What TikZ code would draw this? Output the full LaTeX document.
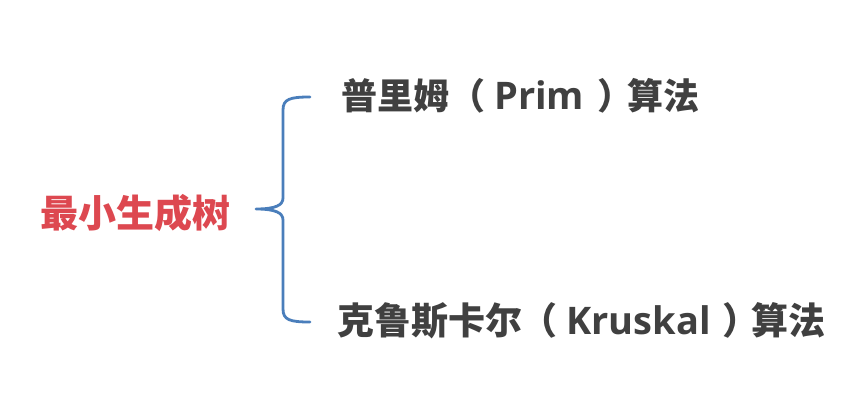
\documentclass[tikz,border=0pt]{standalone}
\usepackage{fontspec}
\newfontfamily\cjk{Noto Sans CJK SC}
\newfontfamily\lat{Open Sans}
\definecolor{titlered}{RGB}{221,72,80}
\definecolor{bracecol}{RGB}{74,126,187}
\definecolor{textgray}{RGB}{64,64,64}
\newcommand{\latpart}[1]{{\lat\bfseries\fontsize{38}{44}\selectfont #1}}
\tikzset{
  rootlabel/.style={anchor=west, inner sep=0pt, text=titlered, font=\cjk\bfseries\fontsize{38}{44}\selectfont},
  leaflabel/.style={anchor=base west, inner sep=0pt, text=textgray, font=\cjk\bfseries\fontsize{36}{42}\selectfont},
  bracestyle/.style={draw=bracecol, line width=2.8pt, line cap=round, line join=round}
}
\begin{document}
\begin{tikzpicture}[x=1pt,y=1pt]
\useasboundingbox[fill=white] (0,0) rectangle (861,408);
\node[rootlabel] (root) at (40,195) {最小生成树};
\node[leaflabel] (prim) at (341,299) {普里姆（\kern9pt\latpart{Prim}\kern13pt）\kern-6pt算法};
\node[leaflabel, font=\cjk\bfseries\fontsize{37}{42}\selectfont] (kruskal) at (337,74) {克鲁斯卡尔\kern-2pt（\kern9pt\latpart{Kruskal}\kern12pt）\kern-8pt算法};
\coordinate (btop) at (310,311);
\coordinate (bbot) at (310,86);
\coordinate (btip) at (256,199);
\draw[bracestyle] (btop) .. controls (290,311) and (283,309) .. (283,298)
  -- (283,210) .. controls (283,203) and (276,199) .. (btip)
  .. controls (276,199) and (283,195) .. (283,188)
  -- (283,99) .. controls (283,88) and (290,86) .. (bbot);
\end{tikzpicture}
\end{document}
